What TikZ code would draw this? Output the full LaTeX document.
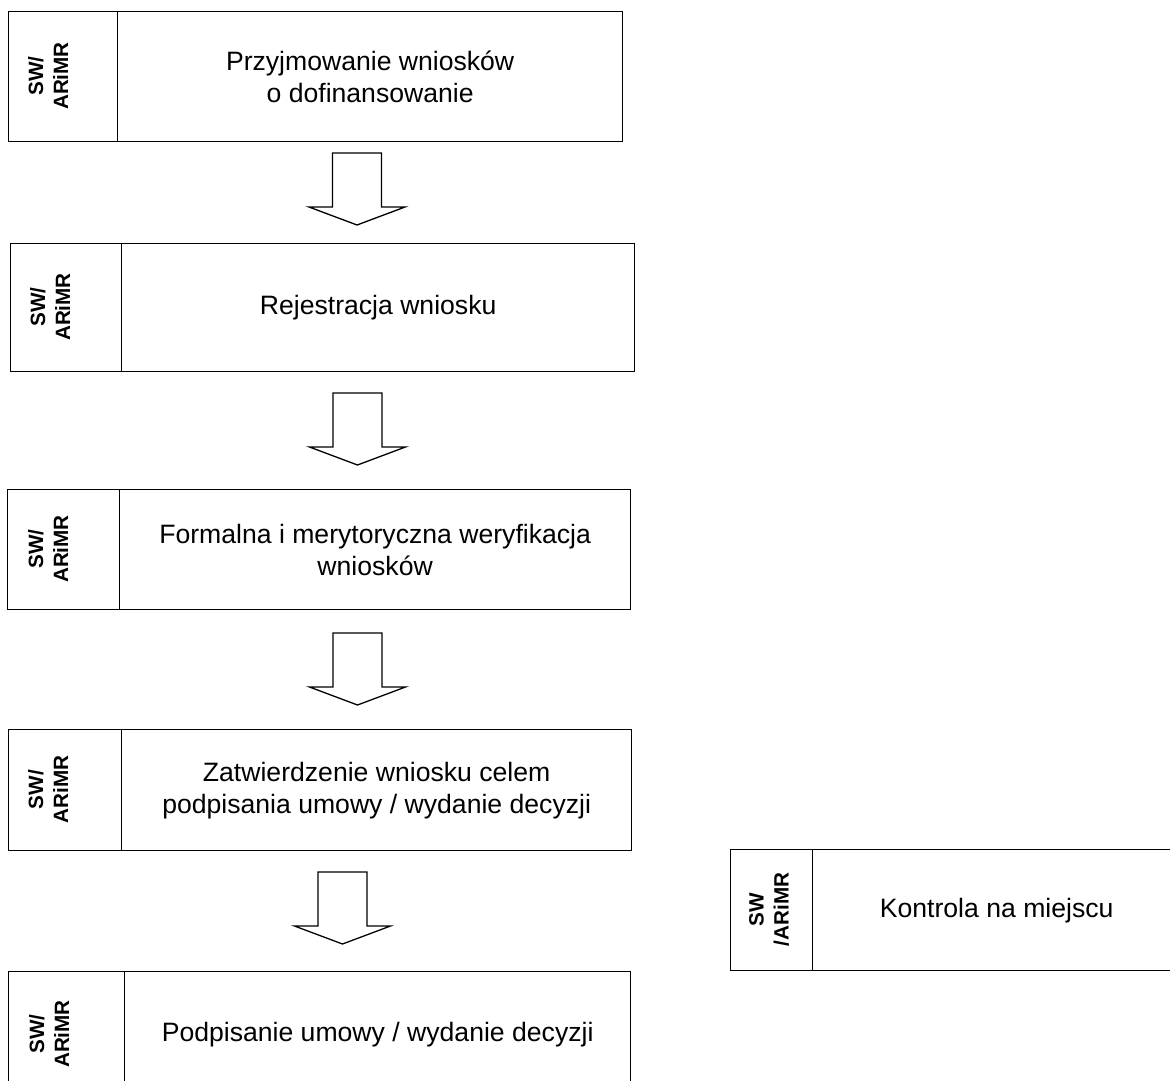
\documentclass[tikz,border=0pt]{standalone}
\usepackage{fontspec}
\setmainfont{Liberation Sans}
\tikzstyle{cell}=[draw,rectangle,line width=1.3pt,inner sep=0pt,anchor=north west]
\tikzstyle{task}=[cell,align=center,font=\fontsize{26.6pt}{32pt}\selectfont]
\tikzstyle{who}=[rotate=90,align=center,inner sep=0pt,font=\fontsize{20.7pt}{25pt}\selectfont\bfseries]
\tikzstyle{bigarrow}=[draw,line width=1.3pt,fill=white]
\newcommand{\flowarrow}[1]{%
  \draw[bigarrow] (#1) ++(-24.5,0) -- ++(0,54) -- ++(-23.5,0) -- ++(48,18)
    -- ++(48,-18) -- ++(-23.5,0) -- ++(0,-54) -- cycle;}

\begin{document}
\begin{tikzpicture}[x=1pt,y=-1pt]
      \clip (0,0) rectangle (1170,1081);

      % main column
      \node[cell,minimum width=109pt,minimum height=130pt] (l1) at (8,11) {};
      \node[task,minimum width=505pt,minimum height=130pt] (t1) at (117,11) {Przyjmowanie wniosków\\o dofinansowanie};
      \node[who] (w1) at (48,76) {SW/\\ARiMR};

      \node[cell,minimum width=111pt,minimum height=128pt] (l2) at (10,243) {};
      \node[task,minimum width=513pt,minimum height=128pt] (t2) at (121,243) {Rejestracja wniosku};
      \node[who] (w2) at (50,307) {SW/\\ARiMR};

      \node[cell,minimum width=112pt,minimum height=120pt] (l3) at (7,489) {};
      \node[task,minimum width=511pt,minimum height=120pt] (t3) at (119,489) {Formalna i merytoryczna weryfikacja\\wniosków};
      \node[who] (w3) at (48,549) {SW/\\ARiMR};

      \node[cell,minimum width=113pt,minimum height=121pt] (l4) at (8,729) {};
      \node[task,minimum width=510pt,minimum height=121pt] (t4) at (121,729) {Zatwierdzenie wniosku celem\\podpisania umowy / wydanie decyzji};
      \node[who] (w4) at (48,789.5) {SW/\\ARiMR};

      \node[cell,minimum width=116pt,minimum height=126pt] (l5) at (8,971) {};
      \node[task,minimum width=506pt,minimum height=126pt] (t5) at (124,971) {Podpisanie umowy / wydanie decyzji};
      \node[who] (w5) at (49,1034) {SW/\\ARiMR};

      % side box
      \node[cell,minimum width=82pt,minimum height=121pt] (l6) at (730,849) {};
      \node[task,minimum width=368pt,minimum height=121pt] (t6) at (812,849) {Kontrola na miejscu};
      \node[who] (w6) at (769,909.5) {SW\\/ARiMR};

      % arrows between the steps
      \coordinate (a1) at (357,153);
      \coordinate (a2) at (357.5,393);
      \coordinate (a3) at (357.5,633);
      \coordinate (a4) at (342.5,872);
      \flowarrow{a1}
      \flowarrow{a2}
      \flowarrow{a3}
      \flowarrow{a4}
\end{tikzpicture}
\end{document}
